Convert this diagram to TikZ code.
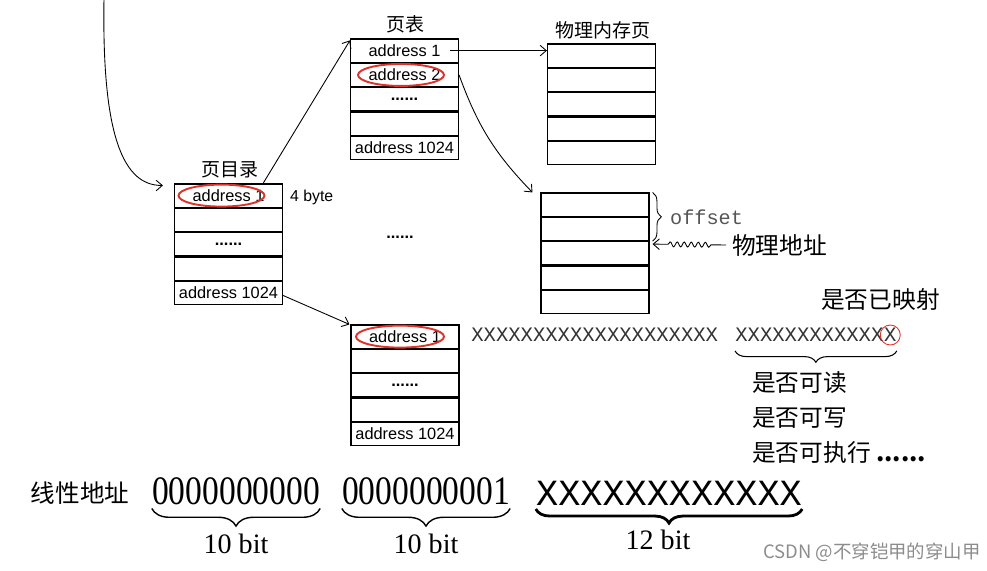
\documentclass[tikz,border=0pt]{standalone}
\usepackage{fontspec}
\setmainfont{Liberation Serif}
\setmonofont{Liberation Mono}
\newfontfamily\cjk{Noto Sans CJK SC}
\newfontfamily\addrfont{Liberation Sans}
\usetikzlibrary{arrows.meta, positioning, decorations.pathreplacing, decorations.pathmorphing}
\definecolor{ringred}{HTML}{E0322B}
\definecolor{markgray}{HTML}{555555}

\begin{document}
\begin{tikzpicture}[
  x=0.02cm, y=-0.02cm,
  cell/.style={draw, line width=0.65pt, minimum width=2.16cm, minimum height=0.464cm, inner sep=0pt, font=\addrfont\fontsize{9.3}{10}\selectfont},
  title/.style={font=\cjk\fontsize{10.8}{12}\selectfont},
  note/.style={font=\cjk\fontsize{13.5}{15}\selectfont, anchor=west},
  bits/.style={font=\ttfamily\fontsize{11.7}{12}\selectfont, text=black!80, inner sep=0pt, anchor=west},
  link/.style={-{Straight Barb[length=3.5pt, width=6pt]}, line width=0.5pt},
  ring/.style={draw=ringred, line width=1.1pt},
  bitbrace/.style={decorate, decoration={brace, amplitude=10pt}, line width=0.8pt},
]
\useasboundingbox (0,0) rectangle (987,571);

% Page directory
\node[title] (dirtitle) at (230,170) {页目录};
\node[cell] (dir1) at (228.5,195.6) {address 1};
\node[cell, below=0pt of dir1] (dir2) {};
\node[cell, below=0pt of dir2] (dir3) {\textbf{......}};
\node[cell, below=0pt of dir3] (dir4) {};
\node[cell, below=0pt of dir4] (dir5) {address 1024};
\node[font=\addrfont\fontsize{9}{10}\selectfont, anchor=west] (entsize) at (284,197) {4 byte};

% Page table
\node[title] (tabtitle) at (405,24) {页表};
\node[cell] (tab1) at (404.5,50.6) {address 1};
\node[cell, below=0pt of tab1] (tab2) {address 2};
\node[cell, below=0pt of tab2] (tab3) {\textbf{......}};
\node[cell, below=0pt of tab3] (tab4) {};
\node[cell, below=0pt of tab4] (tab5) {address 1024};

% Physical pages
\node[title] (memtitle) at (603,30) {物理内存页};
\node[cell] (mem1) at (601.5,55.6) {};
\node[cell, below=0pt of mem1] (mem2) {};
\node[cell, below=0pt of mem2] (mem3) {};
\node[cell, below=0pt of mem3] (mem4) {};
\node[cell, below=0pt of mem4] (mem5) {};

\node[cell] (frame1) at (595,204.6) {};
\node[cell, below=0pt of frame1] (frame2) {};
\node[cell, below=0pt of frame2] (frame3) {};
\node[cell, below=0pt of frame3] (frame4) {};
\node[cell, below=0pt of frame4] (frame5) {};

% Another page table
\node[font=\addrfont\bfseries\fontsize{9.3}{10}\selectfont] (gap) at (400,237) {......};
\node[cell] (pte1) at (405,336.6) {address 1};
\node[cell, below=0pt of pte1] (pte2) {};
\node[cell, below=0pt of pte2] (pte3) {\textbf{......}};
\node[cell, below=0pt of pte3] (pte4) {};
\node[cell, below=0pt of pte4] (pte5) {address 1024};

% Red marks
\draw[ring] ([xshift=-0.14cm]dir1.center) ellipse [x radius=0.86cm, y radius=0.22cm];
\draw[ring] ([xshift=-0.07cm]tab2.center) ellipse [x radius=0.86cm, y radius=0.22cm];
\draw[ring] ([xshift=-0.1cm]pte1.center) ellipse [x radius=0.88cm, y radius=0.22cm];

% Links
\coordinate (vaddr) at (104,-2);
\draw[link] (vaddr) .. controls (102,120) and (118,186) .. ([xshift=-0.22cm, yshift=-0.04cm]dir1.north west);
\draw[link] ([xshift=-0.4cm]dir1.north east) -- ([yshift=-0.04cm]tab1.north west);
\draw[link] ([xshift=-0.18cm]tab1.east) -- (tab1.east -| mem1.west);
\draw[link] (tab2.east) to[bend right=12] ([xshift=-0.16cm]frame1.north west);
\draw[link] ([yshift=-0.05cm]dir5.east) -- ([xshift=-0.02cm]pte1.north west);

% Offset inside page
\draw[decorate, decoration={brace, amplitude=5pt}, line width=0.5pt] ([xshift=0.06cm]frame1.north east) -- ([xshift=0.06cm]frame2.south east);
\node[font=\ttfamily\fontsize{11.5}{12}\selectfont, text=markgray, anchor=west] (offset) at (664,217) {offset};
\node[note] (phyaddr) at (726,245) {物理地址};
\draw[link, decorate, decoration={snake, amplitude=1.4pt, segment length=4pt, pre length=0.3cm, post length=0.3cm}] (phyaddr.west) -- ([xshift=0.06cm, yshift=-0.06cm]frame2.south east);

% Entry bits
\node[bits] (hibits) at (471,335) {XXXXXXXXXXXXXXXXXXXX};
\node[bits] (flagbits) at (735,335) {XXXXXXXXXXXX};
\node[bits, right=0pt of flagbits] (flagx) {X};
\draw[draw=ringred, line width=0.5pt] (flagx.center) circle [radius=0.2cm];
\draw[decorate, decoration={brace, amplitude=6.5pt}, line width=0.6pt] ([yshift=-5pt]flagx.south east) -- ([yshift=-5pt]flagbits.south west);
\node[note] (mapped) at (815,300) {是否已映射};
\node[note] (canread) at (746,383) {是否可读};
\node[note] (canwrite) at (746,418) {是否可写};
\node[note] (canexec) at (746,453) {是否可执行 \textbf{......}};

% Linear address
\node[font=\cjk\fontsize{14}{16}\selectfont] (linear) at (80,493) {线性地址};
\node[font=\fontsize{23}{24}\selectfont, inner sep=0pt] (dirbits) at (236,491) {\scalebox{0.83}[1]{0000000000}};
\node[font=\fontsize{23}{24}\selectfont, inner sep=0pt] (tabbits) at (426,491) {\scalebox{0.83}[1]{0000000001}};
\node[font=\ttfamily\fontsize{21}{22}\selectfont, inner sep=0pt] (offbits) at (669,493) {XXXXXXXXXXXX};
\draw[bitbrace] ([yshift=-2pt]dirbits.south east) -- ([yshift=-2pt]dirbits.south west) node[midway, below=11pt, font=\fontsize{16}{18}\selectfont] (dirlen) {10 bit};
\draw[bitbrace] ([yshift=-2pt]tabbits.south east) -- ([yshift=-2pt]tabbits.south west) node[midway, below=11pt, font=\fontsize{16}{18}\selectfont] (tablen) {10 bit};
\draw[bitbrace, line width=1.6pt, decoration={amplitude=8pt}] ([yshift=-2pt]offbits.south east) -- ([yshift=-2pt]offbits.south west) node[midway, below=8pt, xshift=-0.22cm, font=\fontsize{16}{18}\selectfont] (offlen) {12 bit};

% Watermark
\node[font=\cjk\fontsize{10.5}{12}\selectfont, text=black!45] (mark) at (872,552) {CSDN @不穿铠甲的穿山甲};
\end{tikzpicture}
\end{document}
